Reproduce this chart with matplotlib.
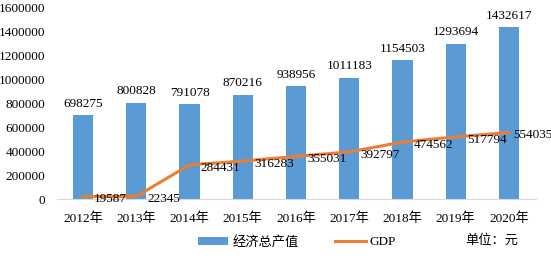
import matplotlib.pyplot as plt
import numpy as np

years = ['2012年', '2013年', '2014年', '2015年', '2016年', '2017年', '2018年', '2019年', '2020年']
output = [698275, 800828, 791078, 870216, 938956, 1011183, 1154503, 1293694, 1432617]
gdp = [19587, 22345, 284431, 316283, 355031, 392797, 474562, 517794, 554035]

plt.rcParams['font.family'] = ['Liberation Serif', 'Noto Sans CJK SC']
plt.rcParams['font.size'] = 9

fig = plt.figure(figsize=(5.51, 2.59), dpi=100)
ax = fig.add_axes([56.5 / 551, 1 - 199 / 259, 479 / 551, 192 / 259])

x = np.arange(len(years))
bars = ax.bar(x, output, width=0.38, color='#5B9BD5', label='经济总产值', zorder=2)
line, = ax.plot(x, gdp, color='#ED7D31', linewidth=2.2, label='GDP', zorder=3)

for xi, v in zip(x, output):
    ax.annotate(str(v), (xi, v), xytext=(0, 4), textcoords='offset points',
                ha='center', va='bottom', fontsize=9.5)
for xi, v in zip(x, gdp):
    dx = 8 if xi < len(years) - 1 else 3
    ax.annotate(str(v), (xi, v), xytext=(dx, -2), textcoords='offset points',
                ha='left', va='center', fontsize=9.5)

ax.set_xlim(-0.5, len(years) - 0.5)
ax.set_ylim(0, 1600000)
ax.set_yticks(np.arange(0, 1600001, 200000))
ax.set_yticklabels([str(v) for v in range(0, 1600001, 200000)], fontsize=9.5)
ax.set_xticks(x)
ax.set_xticklabels(years, fontsize=9.5)
ax.tick_params(length=0, pad=8)
ax.tick_params(axis='x', pad=10)
for s in ['top', 'right', 'left']:
    ax.spines[s].set_visible(False)
ax.spines['bottom'].set_color('#D9D9D9')

fig.legend([bars, line], ['经济总产值', 'GDP'], loc='center',
           bbox_to_anchor=(297 / 551, 1 - 242 / 259), ncol=2, frameon=False,
           fontsize=9.5, handlelength=2.3, columnspacing=2.8, handleheight=0.6, handletextpad=0.3)
fig.text(465 / 551, 1 - 240 / 259, '单位：元', fontsize=9.5, va='center', ha='left')

fig.savefig('out.png', dpi=100)
